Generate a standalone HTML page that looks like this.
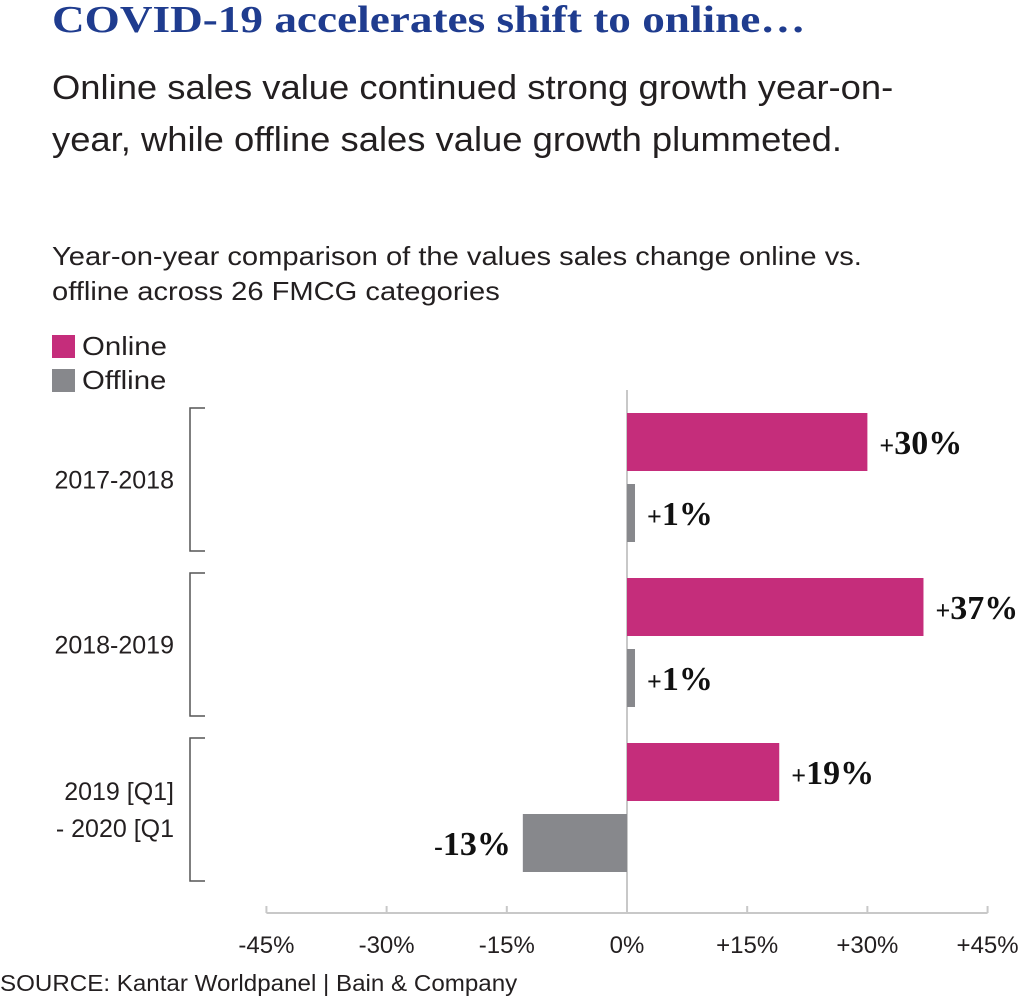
<!DOCTYPE html>
<html><head><meta charset="utf-8"><style>
body{margin:0;width:1020px;height:1001px;background:#fff;overflow:hidden;position:relative;font-family:"Liberation Sans",sans-serif}
.t{position:absolute;white-space:nowrap;transform-origin:0 0}
</style></head><body>
<div class="t" style="left:52px;top:-2px;font-family:'Liberation Serif',serif;font-weight:bold;font-size:38px;color:#1f3c8f;transform:scaleX(1.19)">COVID-19 accelerates shift to online…</div>
<div class="t" style="left:52px;top:62px;font-size:34px;line-height:52px;color:#231f20;transform:scaleX(1.07)">Online sales value continued strong growth year-on-<br>year, while offline sales value growth plummeted.</div>
<div class="t" style="left:52px;top:239px;font-size:26px;line-height:35px;color:#231f20;transform:scaleX(1.12)">Year-on-year comparison of the values sales change online vs.<br>offline across 26 FMCG categories</div>
<div style="position:absolute;left:52px;top:335px;width:23px;height:23px;background:#c52d7b"></div>
<div class="t" style="left:82px;top:331px;font-size:26px;color:#231f20;transform:scaleX(1.13)">Online</div>
<div style="position:absolute;left:52px;top:369px;width:23px;height:23px;background:#87888c"></div>
<div class="t" style="left:82px;top:365px;font-size:26px;color:#231f20;transform:scaleX(1.13)">Offline</div>
<svg id="c" width="1020" height="1001" style="position:absolute;left:0;top:0"></svg>
<div class="t" style="left:0;top:970px;font-size:23px;color:#231f20;transform:scaleX(1.05)">SOURCE: Kantar Worldpanel | Bain &amp; Company</div>
<script>
const groups=["2017-2018","2018-2019","2019 [Q1]|- 2020 [Q1"];
const online=[30,37,19];
const offline=[1,1,-13];
const ticks=[-45,-30,-15,0,15,30,45];
const tickLabels=["-45%","-30%","-15%","0%","+15%","+30%","+45%"];
const NS="http://www.w3.org/2000/svg",svg=document.getElementById('c');
const x=v=>627+v*8.013;
const gTop=i=>413+i*165;
function mk(t,a,txt){const e=document.createElementNS(NS,t);for(const k in a)e.setAttribute(k,a[k]);if(txt!=null)e.textContent=txt;svg.appendChild(e);return e;}
let e=mk('line',{x1:x(0),x2:x(0),y1:390,y2:913,stroke:'#c8c8c8','stroke-width':2});

e=mk('line',{x1:x(-45),x2:x(45),y1:913,y2:913,stroke:'#c8c8c8','stroke-width':2});

ticks.forEach((t,i)=>{
 let l=mk('line',{x1:x(t),x2:x(t),y1:906,y2:913,stroke:'#c8c8c8','stroke-width':2});
 
 let tx=mk('text',{x:x(t),y:953,'text-anchor':'middle','font-size':24,fill:'#231f20','font-family':'Liberation Sans'},tickLabels[i]);
 
});
function lab(v,y,name){
 const s=v>=0?'+':'-';const a=Math.abs(v);
 const px=v>=0?x(v)+12:x(v)-12;
 const t=mk('text',{x:px,y:y+12,'text-anchor':v>=0?'start':'end','font-family':'Liberation Serif','font-weight':'bold','font-size':34,fill:'#111'});
 
 const s1=document.createElementNS(NS,'tspan');s1.setAttribute('font-size',26);s1.textContent=s;t.appendChild(s1);
 const s2=document.createElementNS(NS,'tspan');s2.textContent=a+'%';t.appendChild(s2);
}
groups.forEach((g,i)=>{
 const y0=gTop(i);
 let b=mk('rect',{x:Math.min(x(0),x(online[i])),y:y0,width:Math.abs(x(online[i])-x(0)),height:58,fill:'#c52d7b'});
 
 lab(online[i],y0+29,'value-online-'+i);
 b=mk('rect',{x:Math.min(x(0),x(offline[i])),y:y0+71,width:Math.abs(x(offline[i])-x(0)),height:58,fill:'#87888c'});
 
 lab(offline[i],y0+100,'value-offline-'+i);
 const bt=y0-5,bb=y0+138;
 let p=mk('path',{d:`M205 ${bt}H190V${bb}H205`,fill:'none',stroke:'#555','stroke-width':1.5});
 
 const lines=g.split('|');const cy=(bt+bb)/2;
 lines.forEach((ln,j)=>{
  const t=mk('text',{x:174,y:cy+9+(j-(lines.length-1)/2)*37,'text-anchor':'end','font-size':25,fill:'#231f20','font-family':'Liberation Sans'},ln);
  
 });
});
</script>
</body></html>
